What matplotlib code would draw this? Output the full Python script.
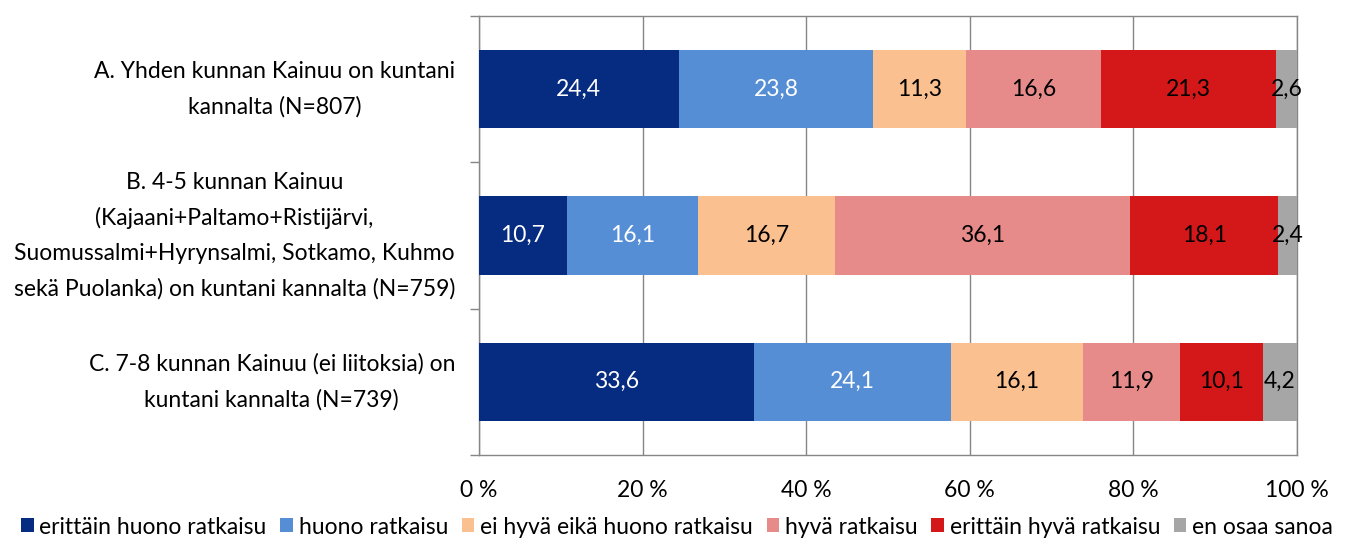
import matplotlib
matplotlib.use("Agg")
import matplotlib.pyplot as plt
import matplotlib.transforms as mtransforms
from matplotlib.patches import Patch

plt.rcParams['font.family'] = ['Lato', 'DejaVu Sans']

categories = [
    "A. Yhden kunnan Kainuu on kuntani\nkannalta (N=807)",
    "B. 4-5 kunnan Kainuu\n(Kajaani+Paltamo+Ristijärvi,\nSuomussalmi+Hyrynsalmi, Sotkamo, Kuhmo\nsekä Puolanka) on kuntani kannalta (N=759)",
    "C. 7-8 kunnan Kainuu (ei liitoksia) on\nkuntani kannalta (N=739)",
]
series_names = [
    "erittäin huono ratkaisu",
    "huono ratkaisu",
    "ei hyvä eikä huono ratkaisu",
    "hyvä ratkaisu",
    "erittäin hyvä ratkaisu",
    "en osaa sanoa",
]
erittain_huono = [24.4, 10.7, 33.6]
huono = [23.8, 16.1, 24.1]
ei_hyva_eika_huono = [11.3, 16.7, 16.1]
hyva = [16.6, 36.1, 11.9]
erittain_hyva = [21.3, 18.1, 10.1]
en_osaa = [2.6, 2.4, 4.2]
series_values = [erittain_huono, huono, ei_hyva_eika_huono, hyva, erittain_hyva, en_osaa]
x_ticks = [0, 20, 40, 60, 80, 100]
x_tick_labels = ["0 %", "20 %", "40 %", "60 %", "80 %", "100 %"]

colors = ["#052C81", "#558ED5", "#FAC090", "#E68A8A", "#D41719", "#A6A6A6"]
label_colors = ["white", "white", "black", "black", "black", "black"]

W, H = 1348, 554
fig = plt.figure(figsize=(W / 100, H / 100), dpi=100)
ax = fig.add_axes([479 / W, 1 - 455 / H, (1297 - 479) / W, (455 - 16) / H])

y = list(range(len(categories)))
left = [0.0] * len(categories)
for vals, col, lcol in zip(series_values, colors, label_colors):
    ax.barh(y, vals, left=left, height=0.535, color=col, zorder=3)
    for yi, v, l in zip(y, vals, left):
        ax.text(l + v / 2, yi, f"{v:.1f}".replace(".", ","), ha="center", va="center",
                color=lcol, fontsize=16.5, zorder=4)
    left = [a + b for a, b in zip(left, vals)]

ax.set_xlim(0, 100)
ax.set_ylim(len(categories) - 0.5, -0.5)
ax.set_xticks(x_ticks)
ax.set_xticklabels(x_tick_labels, fontsize=16.5)
ax.tick_params(axis="x", length=0, pad=18)
ax.set_yticks([])
ax.set_yticks([-0.5, 0.5, 1.5, 2.5], minor=True)
ax.tick_params(axis="y", which="minor", length=6.5, color="#868686", width=1)
ax.grid(axis="x", color="#868686", linewidth=1, zorder=0)
for s in ax.spines.values():
    s.set_color("#868686")
    s.set_linewidth(1)

trans = mtransforms.blended_transform_factory(fig.transFigure, ax.transData)
for yi, cat in zip(y, categories):
    ax.text(455 / W, yi, cat, transform=trans, ha="right", va="center",
            multialignment="center", fontsize=16.5, linespacing=1.8)

handles = [Patch(facecolor=c, edgecolor="none") for c in colors]
fig.legend(handles, series_names, loc="center", bbox_to_anchor=(677 / W, 1 - 527 / H),
           ncol=6, frameon=False, fontsize=16.5, handlelength=0.55, handleheight=0.55,
           handletextpad=0.25, columnspacing=0.6, borderaxespad=0, borderpad=0)

fig.savefig("out.png", dpi=100)
